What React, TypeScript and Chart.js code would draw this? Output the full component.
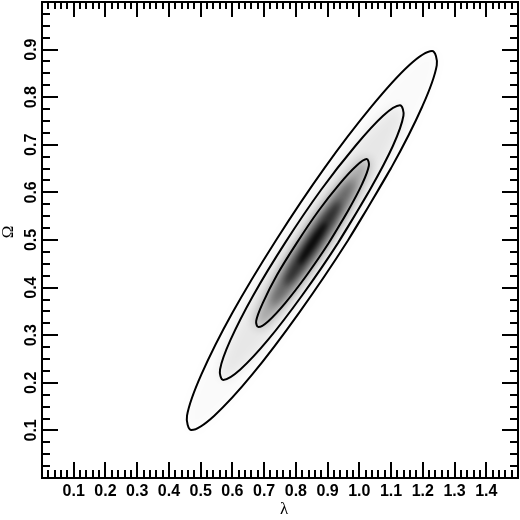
import { useEffect, useRef } from 'react';
import { Chart, registerables } from 'chart.js';

Chart.register(...registerables);

type Pt = [number, number];

// confidence contours, [λ, Ω] (smoothed)
const contourOuter: Pt[] = [
    [0.964, 0.499], [1.100, 0.651], [1.198, 0.780], [1.244, 0.867],
    [1.229, 0.897], [1.157, 0.867], [1.038, 0.780], [0.890, 0.651],
    [0.737, 0.499], [0.600, 0.347], [0.502, 0.217], [0.457, 0.131],
    [0.471, 0.101], [0.543, 0.131], [0.662, 0.217], [0.810, 0.347],
];
const contourMiddle: Pt[] = [
    [0.933, 0.494], [1.033, 0.605], [1.106, 0.698], [1.139, 0.761],
    [1.128, 0.783], [1.075, 0.761], [0.988, 0.698], [0.879, 0.605],
    [0.766, 0.494], [0.666, 0.384], [0.594, 0.290], [0.561, 0.228],
    [0.571, 0.206], [0.625, 0.228], [0.712, 0.290], [0.820, 0.384],
];
const contourInner: Pt[] = [
    [0.903, 0.493], [0.964, 0.561], [1.009, 0.618], [1.030, 0.656],
    [1.023, 0.670], [0.991, 0.656], [0.938, 0.618], [0.871, 0.561],
    [0.802, 0.493], [0.740, 0.426], [0.696, 0.368], [0.675, 0.330],
    [0.682, 0.317], [0.714, 0.330], [0.767, 0.368], [0.834, 0.426],
];

// grey levels of the density inside the inner contour (estimated)
const shadeCore75: Pt[] = [
    [0.890, 0.493], [0.949, 0.559], [0.982, 0.608], [0.981, 0.626],
    [0.944, 0.608], [0.884, 0.559], [0.815, 0.493], [0.756, 0.427],
    [0.723, 0.378], [0.724, 0.361], [0.760, 0.378], [0.821, 0.427],
];
const shadeCore50: Pt[] = [
    [0.878, 0.493], [0.917, 0.537], [0.939, 0.570], [0.938, 0.581],
    [0.914, 0.570], [0.873, 0.537], [0.827, 0.493], [0.788, 0.449],
    [0.766, 0.417], [0.767, 0.405], [0.791, 0.417], [0.832, 0.449],
];
const shadeCore25: Pt[] = [
    [0.865, 0.493], [0.885, 0.515], [0.896, 0.531], [0.895, 0.537],
    [0.883, 0.531], [0.863, 0.515], [0.840, 0.493], [0.820, 0.471],
    [0.809, 0.455], [0.810, 0.449], [0.822, 0.455], [0.842, 0.471],
];

const xTickValues = [0.1, 0.2, 0.3, 0.4, 0.5, 0.6, 0.7, 0.8, 0.9, 1.0, 1.1, 1.2, 1.3, 1.4];
const yTickValues = [0.1, 0.2, 0.3, 0.4, 0.5, 0.6, 0.7, 0.8, 0.9];
const xRange = [0, 1.5];
const yRange = [0, 1];
const xMinorStep = 0.02;
const yMinorStep = 0.025;

// repeat the first two points so the smoothed outline closes without a kink
const closed = (pts: Pt[]) => [...pts, pts[0], pts[1]].map(([x, y]) => ({ x, y }));

const shadeLayers = [
    { pts: contourOuter, alpha: 0.02, blur: 6 },
    { pts: contourMiddle, alpha: 0.08, blur: 6 },
    { pts: contourInner, alpha: 0.33, blur: 6 },
    { pts: shadeCore75, alpha: 0.37, blur: 4 },
    { pts: shadeCore50, alpha: 0.55, blur: 3 },
    { pts: shadeCore25, alpha: 0.8, blur: 2 },
];

const shadingPlugin = {
    id: 'shading',
    beforeDatasetsDraw(chart: any) {
        const { ctx, chartArea } = chart;
        ctx.save();
        ctx.beginPath();
        ctx.rect(chartArea.left, chartArea.top, chartArea.width, chartArea.height);
        ctx.clip();
        chart.data.datasets.forEach((ds: any, i: number) => {
            if (ds.shade == null) return;
            const line = chart.getDatasetMeta(i).dataset;
            if (!line) return;
            line.updateControlPoints(chartArea, 'x');
            ctx.filter = `blur(${ds.shadeBlur}px)`;
            ctx.beginPath();
            line.path(ctx);
            ctx.closePath();
            ctx.fillStyle = `rgba(0,0,0,${ds.shade})`;
            ctx.fill();
        });
        ctx.restore();
    },
};

const framePlugin = {
    id: 'frame',
    afterDraw(chart: any) {
        const { ctx, chartArea } = chart;
        const { left, right, top, bottom } = chartArea;
        const xs = chart.scales.x;
        const ys = chart.scales.y;
        ctx.save();
        ctx.strokeStyle = '#000';
        ctx.lineWidth = 2;
        ctx.lineCap = 'butt';

        const isMajor = (v: number, list: number[]) => list.some(t => Math.abs(t - v) < 1e-6);
        ctx.beginPath();
        for (let v = xRange[0] + xMinorStep; v < xRange[1] - 1e-6; v += xMinorStep) {
            const px = Math.round(xs.getPixelForValue(v));
            const len = isMajor(v, xTickValues) ? 16 : 8;
            ctx.moveTo(px, bottom); ctx.lineTo(px, bottom - len);
            ctx.moveTo(px, top); ctx.lineTo(px, top + len - 1);
        }
        for (let v = yRange[0] + yMinorStep; v < yRange[1] - 1e-6; v += yMinorStep) {
            const py = Math.round(ys.getPixelForValue(v));
            const len = isMajor(v, yTickValues) ? 16 : 8;
            ctx.moveTo(left, py); ctx.lineTo(left + len, py);
            ctx.moveTo(right, py); ctx.lineTo(right - len, py);
        }
        ctx.stroke();
        ctx.strokeRect(left, top, right - left, bottom - top);

        ctx.fillStyle = '#000';
        ctx.font = 'bold 16px "Liberation Sans", Arial, sans-serif';
        ctx.textAlign = 'center';
        ctx.textBaseline = 'alphabetic';
        xTickValues.forEach(v => {
            ctx.fillText(v.toFixed(1), xs.getPixelForValue(v), bottom + 18);
        });
        yTickValues.forEach(v => {
            ctx.save();
            ctx.translate(left - 6.5, ys.getPixelForValue(v));
            ctx.rotate(-Math.PI / 2);
            ctx.fillText(v.toFixed(1), 0, 0);
            ctx.restore();
        });

        ctx.font = '17px "Liberation Serif", "DejaVu Serif", serif';
        ctx.fillText('λ', (left + right) / 2 + 4, bottom + 36);
        ctx.save();
        ctx.translate(left - 29.5, (top + bottom) / 2 - 8);
        ctx.rotate(-Math.PI / 2);
        ctx.fillText('Ω', 0, 0);
        ctx.restore();
        ctx.restore();
    },
};

export default function App() {
    const canvasRef = useRef<HTMLCanvasElement>(null);

    useEffect(() => {
        if (!canvasRef.current) return;

        // shading outlines: a line element exists (showLine) but has no visible stroke
        const shadeSets = shadeLayers.map((l, i) => ({
            label: `shade${i}`,
            data: closed(l.pts),
            showLine: true,
            borderWidth: 0,
            borderColor: 'rgba(0,0,0,0)',
            pointRadius: 0,
            tension: 0.35,
            shade: l.alpha,
            shadeBlur: l.blur,
        }));
        const lineSets = [contourInner, contourMiddle, contourOuter].map((pts, i) => ({
            label: `contour${i}`,
            data: closed(pts),
            showLine: true,
            borderColor: '#000',
            borderWidth: 2,
            pointRadius: 0,
            tension: 0.35,
            fill: false,
        }));

        const chart = new Chart(canvasRef.current, {
            type: 'scatter',
            data: { datasets: [...shadeSets, ...lineSets] as any },
            options: {
                responsive: false,
                animation: false,
                events: [],
                layout: { padding: { left: 42, top: 2, right: 2, bottom: 42 } },
                scales: {
                    x: { type: 'linear', min: xRange[0], max: xRange[1], display: false },
                    y: { type: 'linear', min: yRange[0], max: yRange[1], display: false },
                },
                plugins: {
                    legend: { display: false },
                    tooltip: { enabled: false },
                },
            },
            plugins: [shadingPlugin, framePlugin],
        });

        return () => {
            chart.destroy();
        };
    }, []);

    return (
        <div style={{ position: 'fixed', left: 0, top: 0, width: 520, height: 520, background: '#fff' }}>
            <canvas ref={canvasRef} width={520} height={520} />
        </div>
    );
}
